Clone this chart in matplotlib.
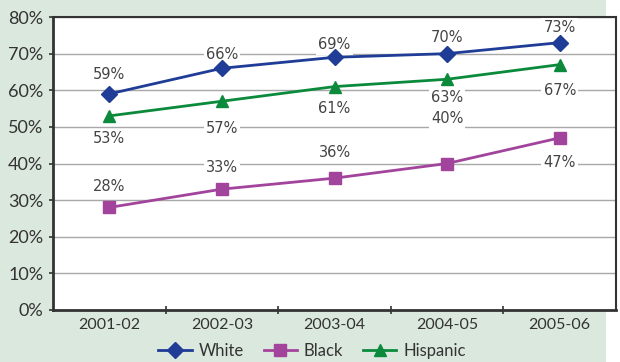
import matplotlib
matplotlib.use("Agg")
import matplotlib.pyplot as plt
from matplotlib.patches import Rectangle
from matplotlib.lines import Line2D

years = ["2001-02", "2002-03", "2003-04", "2004-05", "2005-06"]
white = [59, 66, 69, 70, 73]
black = [28, 33, 36, 40, 47]
hispanic = [53, 57, 61, 63, 67]
y_ticks = [0, 10, 20, 30, 40, 50, 60, 70, 80]

# label placement offsets (percentage points from each value)
white_off = [5.2, 3.7, 3.4, 4.3, 4.0]
black_off = [5.6, 5.8, 6.9, 12.2, -6.8]
hisp_off = [-6.3, -7.5, -6.1, -5.1, -7.2]

BLUE = "#1f3c96"
MAGENTA = "#a3449c"
GREEN = "#0b8a3c"
TEXT = "#333333"
BG = "#dbe8dd"

fig = plt.figure(figsize=(6.2, 3.62), dpi=100)
fig.patch.set_facecolor("white")
fig.add_artist(Rectangle((0, 0), 606 / 620, 1, transform=fig.transFigure,
                         facecolor=BG, edgecolor="none", zorder=0))

ax = fig.add_axes([53 / 620, 52 / 362, 563 / 620, 293 / 362])
ax.set_facecolor("white")
ax.set_zorder(1)

x = list(range(len(years)))
ax.plot(x, white, color=BLUE, lw=2, marker="D", ms=8, zorder=4)
ax.plot(x, black, color=MAGENTA, lw=2, marker="s", ms=8, zorder=4)
ax.plot(x, hispanic, color=GREEN, lw=2, marker="^", ms=8, zorder=4)

lab_font = dict(family=["Liberation Sans Narrow", "DejaVu Sans"], size=10.5, color="#444444")
box = dict(boxstyle="square,pad=0.15", facecolor="white", edgecolor="none")
for series, offs in ((white, white_off), (black, black_off), (hispanic, hisp_off)):
    for xi, v, o in zip(x, series, offs):
        ax.text(xi, v + o, f"{v}%", ha="center", va="center", bbox=box,
                zorder=3, **lab_font)

ax.set_xlim(-0.5, len(years) - 0.5)
ax.set_ylim(0, 80)
ax.set_yticks(y_ticks)
ax.set_yticklabels([f"{t}%" for t in y_ticks], fontsize=13, color=TEXT,
                   family="Lato")
ax.set_xticks(x)
ax.set_xticklabels(years, fontsize=11.5, color=TEXT, family="Lato")
ax.set_xticks([i + 0.5 for i in x[:-1]], minor=True)
ax.tick_params(axis="x", which="major", length=0, pad=6)
ax.tick_params(axis="x", which="minor", length=6, direction="inout",
               width=1.2, color="#333333")
ax.tick_params(axis="y", length=3, width=1.2, color="#333333", pad=4)

ax.grid(axis="y", color="#a8a8a8", lw=1)
ax.set_axisbelow(True)
for side in ("left", "bottom"):
    ax.spines[side].set_linewidth(2)
    ax.spines[side].set_color("#333333")
for side in ("top", "right"):
    ax.spines[side].set_linewidth(1.5)
    ax.spines[side].set_color("#333333")

handles = [
    Line2D([], [], color=BLUE, lw=2, marker="D", ms=8),
    Line2D([], [], color=MAGENTA, lw=2, marker="s", ms=8),
    Line2D([], [], color=GREEN, lw=2, marker="^", ms=8),
]
fig.legend(handles, ["White", "Black", "Hispanic"], loc="center",
           bbox_to_anchor=(312 / 620, 1 - 351 / 362), ncol=3, frameon=False,
           prop=dict(family="Lato", size=12), labelcolor=TEXT,
           handlelength=2.0, handletextpad=0.4, columnspacing=1.2,
           borderaxespad=0)

fig.savefig("out.png", dpi=100, facecolor=fig.get_facecolor())
